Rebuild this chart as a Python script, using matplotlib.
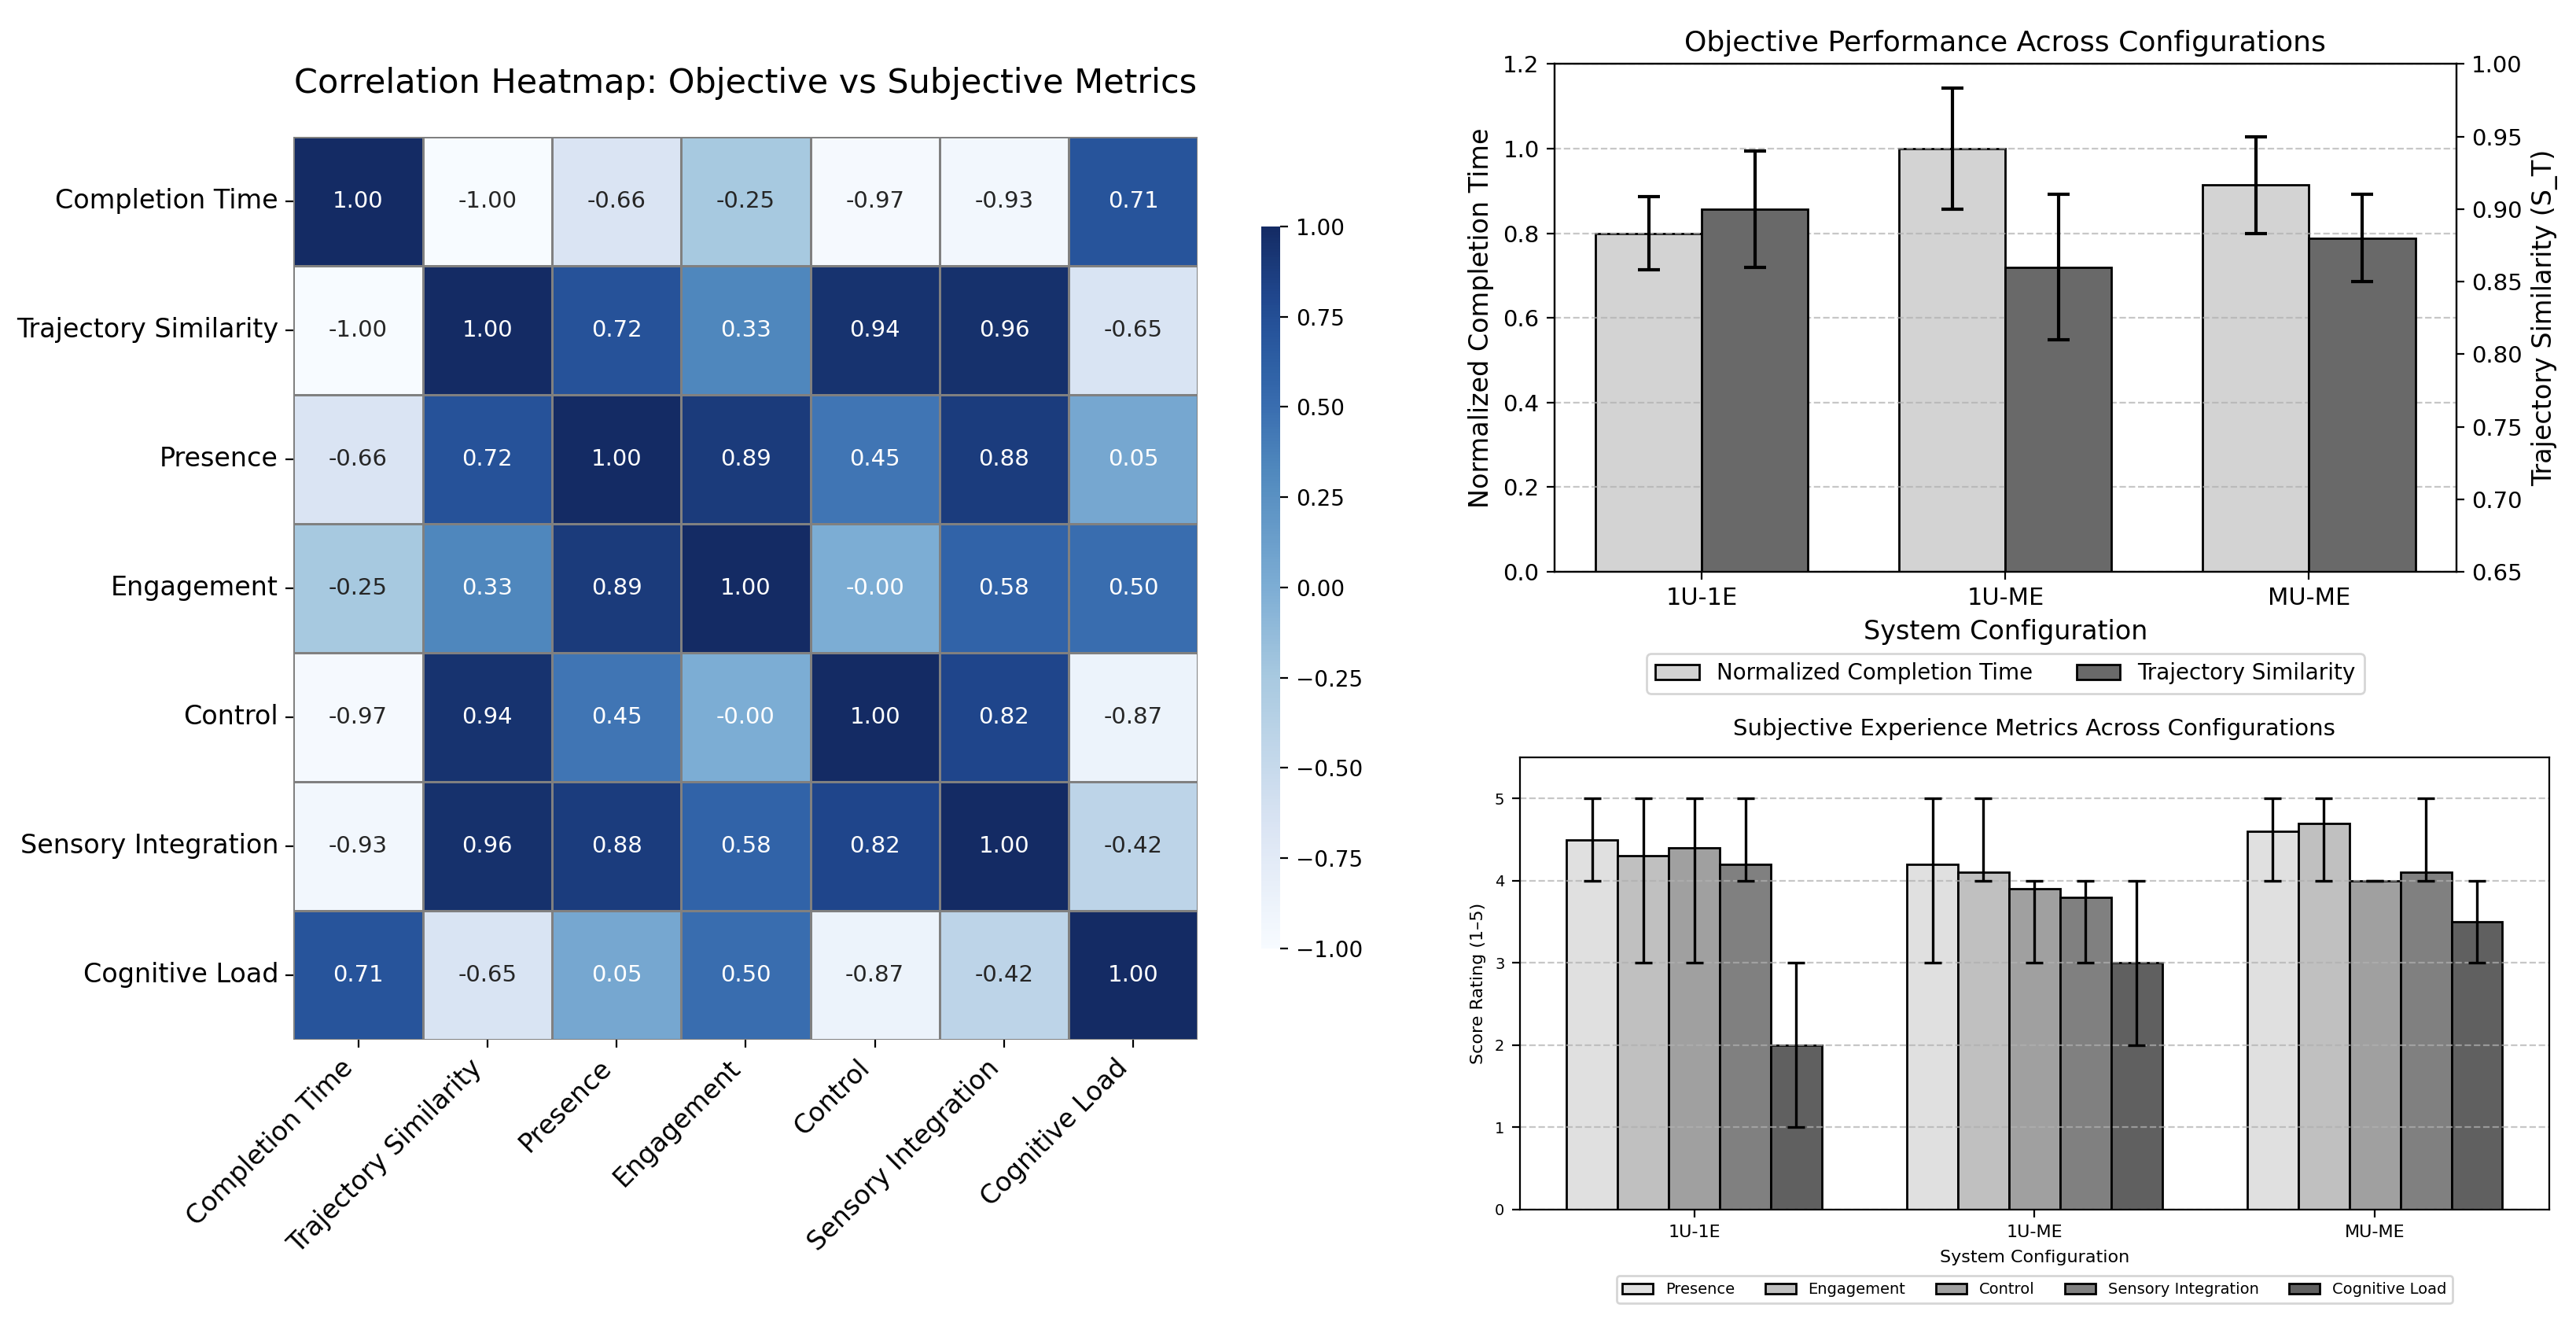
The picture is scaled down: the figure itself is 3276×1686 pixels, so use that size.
import matplotlib
matplotlib.use("Agg")
import matplotlib.pyplot as plt
import numpy as np
import seaborn as sns
from matplotlib.colors import LinearSegmentedColormap

# Correlation matrix between objective and subjective metrics
metrics = ["Completion Time", "Trajectory Similarity", "Presence", "Engagement",
           "Control", "Sensory Integration", "Cognitive Load"]
corr = np.array([
    [1.00, -1.00, -0.66, -0.25, -0.97, -0.93, 0.71],
    [-1.00, 1.00, 0.72, 0.33, 0.94, 0.96, -0.65],
    [-0.66, 0.72, 1.00, 0.89, 0.45, 0.88, 0.05],
    [-0.25, 0.33, 0.89, 1.00, -0.00, 0.58, 0.50],
    [-0.97, 0.94, 0.45, -0.00, 1.00, 0.82, -0.87],
    [-0.93, 0.96, 0.88, 0.58, 0.82, 1.00, -0.42],
    [0.71, -0.65, 0.05, 0.50, -0.87, -0.42, 1.00],
])

# Objective performance per configuration
configs = ["1U-1E", "1U-ME", "MU-ME"]
completion_time = [0.800, 1.000, 0.914]
completion_err = [0.086, 0.143, 0.114]
traj_similarity = [0.90, 0.86, 0.88]
traj_err = [0.04, 0.05, 0.03]

# Subjective ratings (means, with min/max range for error bars)
subj_names = ["Presence", "Engagement", "Control", "Sensory Integration", "Cognitive Load"]
subj_mean = [
    [4.5, 4.2, 4.6],
    [4.3, 4.1, 4.7],
    [4.4, 3.9, 4.0],
    [4.2, 3.8, 4.1],
    [2.0, 3.0, 3.5],
]
subj_low = [
    [4, 3, 4],
    [3, 4, 4],
    [3, 3, 4],
    [4, 3, 4],
    [1, 2, 3],
]
subj_high = [
    [5, 5, 5],
    [5, 5, 5],
    [5, 4, 4],
    [5, 4, 5],
    [3, 4, 4],
]
subj_colors = ["#e0e0e0", "#c0c0c0", "#a0a0a0", "#808080", "#606060"]

# muted blues, sampled from the original figure
blues = LinearSegmentedColormap.from_list("muted_blues", [
    (0.0, "#f7fbff"), (0.17, "#dae4f3"), (0.375, "#a8c9e0"), (0.5, "#7dadd4"),
    (0.665, "#4f88bd"), (0.75, "#3a6eb0"), (0.79, "#3164a8"), (0.86, "#26539a"),
    (0.91, "#1f458b"), (0.945, "#1b3b7b"), (1.0, "#142b64"),
])

fig = plt.figure(figsize=(16.38, 8.43), dpi=200)

# --- heatmap ---
ax_hm = fig.add_axes([0.114, 0.216, 0.351, 0.681])
ax_cb = fig.add_axes([0.4896, 0.2847, 0.0075, 0.5445])
sns.heatmap(corr, ax=ax_hm, cbar_ax=ax_cb, cmap=blues, vmin=-1, vmax=1,
            annot=True, fmt=".2f", annot_kws={"size": 10.5},
            linewidths=1, linecolor="gray",
            xticklabels=metrics, yticklabels=metrics)
ax_hm.set_title("Correlation Heatmap: Objective vs Subjective Metrics", fontsize=15.5, pad=20)
ax_hm.set_xticklabels(metrics, rotation=45, ha="right", fontsize=12)
ax_hm.set_yticklabels(metrics, rotation=0, fontsize=12)
ax_cb.tick_params(labelsize=10)

# --- objective performance ---
x = np.arange(len(configs))
w = 0.35
ax1 = fig.add_axes([0.6035, 0.5688, 0.350, 0.383])
ax1.bar(x - w / 2, completion_time, w, yerr=completion_err, capsize=5,
        color="lightgray", edgecolor="black", label="Normalized Completion Time",
        error_kw={"elinewidth": 1.5, "capthick": 1.5})
ax1.set_ylim(0, 1.2)
ax1.set_ylabel("Normalized Completion Time", fontsize=12)
ax1.set_xlabel("System Configuration", fontsize=12)
ax1.set_xticks(x)
ax1.set_xticklabels(configs, fontsize=11)
ax1.tick_params(axis="y", labelsize=10.5)
ax1.grid(axis="y", linestyle="--", alpha=0.7)
ax1.set_title("Objective Performance Across Configurations", fontsize=13)

ax2 = ax1.twinx()
ax2.bar(x + w / 2, traj_similarity, w, yerr=traj_err, capsize=5,
        color="dimgray", edgecolor="black", label="Trajectory Similarity",
        error_kw={"elinewidth": 1.5, "capthick": 1.5})
ax2.set_ylim(0.65, 1.0)
ax2.set_ylabel("Trajectory Similarity (S_T)", fontsize=12)
ax2.tick_params(axis="y", labelsize=10.5)

h1, l1 = ax1.get_legend_handles_labels()
h2, l2 = ax2.get_legend_handles_labels()
ax1.legend(h1 + h2, l1 + l2, loc="upper center", bbox_to_anchor=(0.5, -0.14),
           ncol=2, fontsize=10)

# --- subjective experience ---
ax3 = fig.add_axes([0.590, 0.0878, 0.3996, 0.341])
bw = 0.15
for i, name in enumerate(subj_names):
    mean = np.array(subj_mean[i])
    err = [mean - np.array(subj_low[i]), np.array(subj_high[i]) - mean]
    ax3.bar(x + (i - 2) * bw, mean, bw, yerr=err, capsize=4,
            color=subj_colors[i], edgecolor="black", label=name,
            error_kw={"elinewidth": 1.2, "capthick": 1.2})
ax3.set_ylim(0, 5.5)
ax3.set_xticks(x)
ax3.set_xticklabels(configs, fontsize=8)
ax3.tick_params(axis="y", labelsize=7)
ax3.set_ylabel("Score Rating (1\u20135)", fontsize=8)
ax3.set_xlabel("System Configuration", fontsize=8)
ax3.set_title("Subjective Experience Metrics Across Configurations", fontsize=10.5, pad=10)
ax3.grid(axis="y", linestyle="--", alpha=0.7)
ax3.legend(loc="upper center", bbox_to_anchor=(0.5, -0.13), ncol=5, fontsize=7)

fig.savefig("out.png", dpi=200)
